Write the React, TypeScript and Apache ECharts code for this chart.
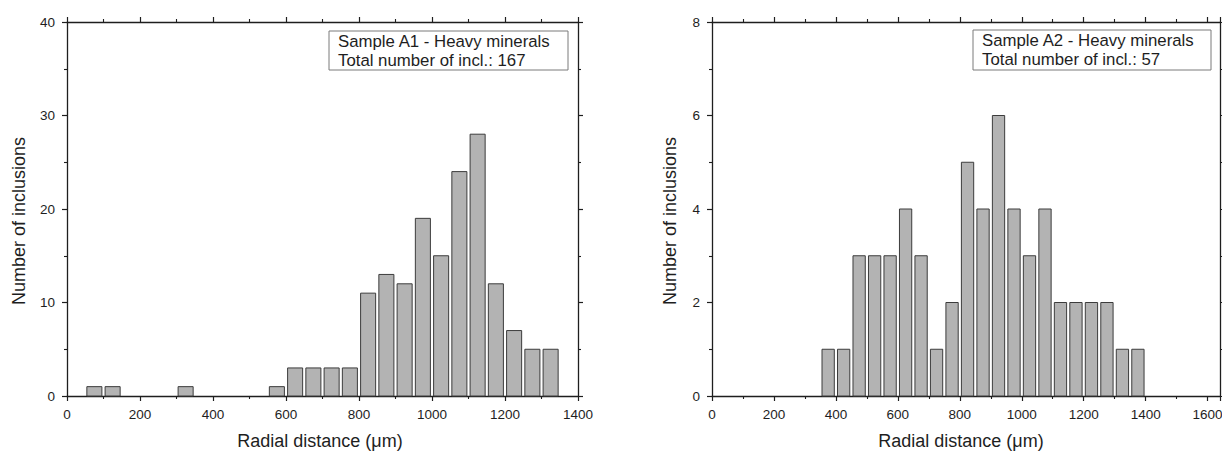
import React, { useEffect, useRef } from "react";
import * as echarts from "echarts";

// ---- Data ----
const binWidth = 50;

const leftTitle = "Sample A1 - Heavy minerals";
const leftTotal = "Total number of incl.: 167";
const leftBinStarts = [50, 100, 300, 550, 600, 650, 700, 750, 800, 850, 900, 950, 1000, 1050, 1100, 1150, 1200, 1250, 1300];
const leftCounts = [1, 1, 1, 1, 3, 3, 3, 3, 11, 13, 12, 19, 15, 24, 28, 12, 7, 5, 5];

const rightTitle = "Sample A2 - Heavy minerals";
const rightTotal = "Total number of incl.: 57";
const rightBinStarts = [350, 400, 450, 500, 550, 600, 650, 700, 750, 800, 850, 900, 950, 1000, 1050, 1100, 1150, 1200, 1250, 1300, 1350];
const rightCounts = [1, 1, 3, 3, 3, 4, 3, 1, 2, 5, 4, 6, 4, 3, 4, 2, 2, 2, 2, 1, 1];

const xTitle = "Radial distance (\u03bcm)";
const yTitle = "Number of inclusions";

const FONT = "Liberation Sans, Arial, Helvetica, sans-serif";
const INK = "#1e1e1e";

function binData(starts: number[], counts: number[]) {
  return starts.map((s, i) => [s, s + binWidth, counts[i]]);
}

const renderBar = (params: any, api: any) => {
  const start = api.value(0);
  const end = api.value(1);
  const count = api.value(2);
  const p0 = api.coord([start, count]);
  const p1 = api.coord([end, 0]);
  const gap = 1.6;
  return {
    type: "rect",
    shape: { x: p0[0] + gap, y: p0[1], width: p1[0] - p0[0] - 2 * gap, height: p1[1] - p0[1] },
    style: { fill: "#b3b3b3", stroke: "#3c3c3c", lineWidth: 1 },
  };
};

const plainNumber = (v: number) => String(v);

function xAxes(gridIndex: number, max: number) {
  const common = {
    type: "value",
    gridIndex,
    min: 0,
    max,
    interval: 200,
    splitLine: { show: false },
    axisLine: { show: true, onZero: false, lineStyle: { color: INK, width: 1.3 } },
    axisTick: { show: true, inside: false, length: 5, lineStyle: { color: INK, width: 1.2 } },
    minorTick: { show: true, splitNumber: 2, length: 3, lineStyle: { color: INK, width: 1.1 } },
  };
  return [
    {
      ...common,
      position: "bottom",
      axisLabel: {
        show: true,
        margin: 11,
        color: INK,
        fontFamily: FONT,
        fontSize: 13.5,
        formatter: plainNumber,
        showMaxLabel: max % 200 === 0,
      },
    },
    { ...common, position: "top", axisLabel: { show: false } },
  ];
}

function yAxes(gridIndex: number, max: number, interval: number) {
  const common = {
    type: "value",
    gridIndex,
    min: 0,
    max,
    interval,
    splitLine: { show: false },
    axisLine: { show: true, onZero: false, lineStyle: { color: INK, width: 1.3 } },
    axisTick: { show: true, inside: false, length: 5, lineStyle: { color: INK, width: 1.2 } },
    minorTick: { show: true, splitNumber: 2, length: 3, lineStyle: { color: INK, width: 1.1 } },
  };
  return [
    {
      ...common,
      position: "left",
      axisLabel: { show: true, margin: 12, color: INK, fontFamily: FONT, fontSize: 13.5, formatter: plainNumber },
    },
    { ...common, position: "right", axisLabel: { show: false } },
  ];
}

function legendBox(x: number, y: number, w: number, h: number, l1: string, l2: string) {
  return {
    type: "group",
    children: [
      { type: "rect", shape: { x, y, width: w, height: h }, style: { fill: "#ffffff", stroke: "#7a7a7a", lineWidth: 1 } },
      {
        type: "text",
        x: x + 9,
        y: y + 10,
        style: { text: l1, fill: INK, font: `16.8px ${FONT}`, textVerticalAlign: "middle", verticalAlign: "middle" },
      },
      {
        type: "text",
        x: x + 9,
        y: y + 29.5,
        style: { text: l2, fill: INK, font: `16.8px ${FONT}`, textVerticalAlign: "middle", verticalAlign: "middle" },
      },
    ],
  };
}

function titleText(x: number, y: number, text: string, rotate: boolean) {
  return {
    type: "text",
    x,
    y,
    rotation: rotate ? Math.PI / 2 : 0,
    style: {
      text,
      fill: INK,
      font: `18px ${FONT}`,
      align: "center",
      verticalAlign: "middle",
      textAlign: "center",
      textVerticalAlign: "middle",
    },
  };
}

export default function App() {
  const ref = useRef<HTMLDivElement>(null);

  useEffect(() => {
    document.body.style.margin = "0";
    if (!ref.current) return;
    const chart = echarts.init(ref.current, null, { renderer: "svg" });
    const option: any = {
      animation: false,
      backgroundColor: "#ffffff",
      grid: [
        { left: 67, top: 22, width: 511, height: 374, containLabel: false, outerBoundsMode: "none" },
        { left: 712, top: 22, width: 508, height: 374, containLabel: false, outerBoundsMode: "none" },
      ],
      xAxis: [...xAxes(0, 1400), ...xAxes(1, 1640)],
      yAxis: [...yAxes(0, 40, 10), ...yAxes(1, 8, 2)],
      series: [
        {
          type: "custom",
          name: leftTitle,
          xAxisIndex: 0,
          yAxisIndex: 0,
          renderItem: renderBar,
          encode: { x: [0, 1], y: 2 },
          data: binData(leftBinStarts, leftCounts),
        },
        {
          type: "custom",
          name: rightTitle,
          xAxisIndex: 2,
          yAxisIndex: 2,
          renderItem: renderBar,
          encode: { x: [0, 1], y: 2 },
          data: binData(rightBinStarts, rightCounts),
        },
      ],
      graphic: [
        legendBox(329, 31, 239, 39, leftTitle, leftTotal),
        legendBox(973, 30, 238, 40, rightTitle, rightTotal),
        titleText(320, 441, xTitle, false),
        titleText(961, 441, xTitle, false),
        titleText(19, 221, yTitle, true),
        titleText(670, 221, yTitle, true),
      ],
    };
    chart.setOption(option);
    return () => chart.dispose();
  }, []);

  return (
    <div
      ref={ref}
      style={{ position: "fixed", left: 0, top: 0, width: 1222, height: 456, background: "#fff" }}
    />
  );
}
